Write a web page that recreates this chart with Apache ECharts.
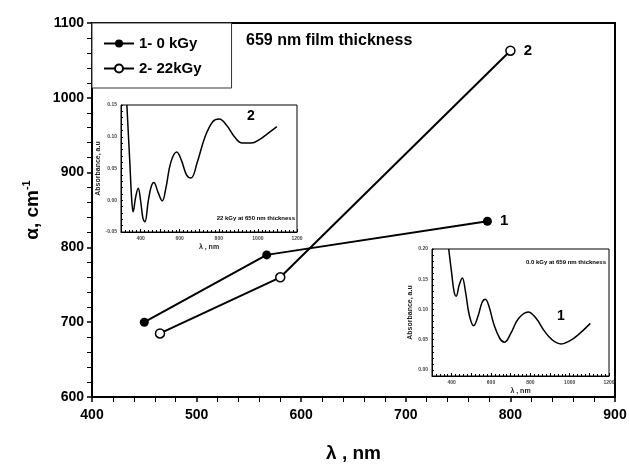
<!DOCTYPE html>
<html lang="en">
<head>
    <meta charset="UTF-8">
    <title>alpha vs lambda</title>
    <script src="https://cdn.jsdelivr.net/npm/echarts@6/dist/echarts.min.js"></script>
</head>
<body style="margin:0;background:#fff">
<div id="chart" style="width:629px;height:464px"></div>
<script>
    // main plot: absorption coefficient vs wavelength
    let lambda1 = [450, 567, 778];
    let alpha1 = [700, 790, 835];
    let lambda2 = [465, 580, 800];
    let alpha2 = [685, 760, 1063];

    // inset 1: absorbance, 22 kGy
    let absX22 = [330, 345, 355, 362, 375, 388, 400, 412, 422, 440, 455, 468, 490, 511, 530, 555, 585, 610, 635, 658, 690, 730, 770, 802, 840, 880, 920, 966, 1010, 1050, 1097];
    let absY22 = [0.15, 0.06, 0.0, -0.018, 0.005, 0.019, 0.0, -0.028, -0.034, 0.0, 0.022, 0.028, 0.012, -0.001, 0.02, 0.06, 0.076, 0.062, 0.04, 0.035, 0.06, 0.1, 0.124, 0.128, 0.118, 0.1, 0.09, 0.09, 0.096, 0.105, 0.116];

    // inset 2: absorbance, 0 kGy
    let absX0 = [385, 400, 412, 423, 438, 454, 470, 490, 512, 535, 555, 571, 590, 615, 645, 669, 700, 740, 789, 830, 870, 910, 956, 1000, 1050, 1105];
    let absY0 = [0.2, 0.16, 0.13, 0.122, 0.14, 0.152, 0.13, 0.09, 0.073, 0.09, 0.112, 0.117, 0.105, 0.075, 0.052, 0.046, 0.06, 0.085, 0.096, 0.085, 0.065, 0.05, 0.043, 0.048, 0.06, 0.077];

    let font = 'Arial, "Liberation Sans", sans-serif';

    function pairs(xs, ys) {
        return xs.map(function (x, i) { return [x, ys[i]]; });
    }

    // put an end label on the last point of a main series
    function withEndLabel(data, text) {
        let last = data[data.length - 1];
        data[data.length - 1] = {
            value: last,
            label: {show: true, formatter: text, position: 'right', distance: 8,
                fontSize: 15, fontWeight: 'bold', color: '#000', fontFamily: font}
        };
        return data;
    }

    function insetX(idx) {
        return {
            type: 'value', gridIndex: idx, min: 300, max: 1200, interval: 100,
            name: 'λ , nm', nameLocation: 'middle', nameGap: 12,
            nameTextStyle: {fontSize: 7, fontWeight: 'bold', color: '#222', fontFamily: font},
            axisLine: {onZero: false, lineStyle: {color: '#000', width: 1}},
            axisTick: {inside: true, length: 3, lineStyle: {color: '#000'}},
            minorTick: {show: true, splitNumber: 5, length: 2, lineStyle: {color: '#000'}},
            splitLine: {show: false},
            axisLabel: {fontSize: 5, fontWeight: 'bold', color: '#444', margin: 4, fontFamily: font,
                formatter: function (v) { return v % 200 === 0 ? v : ''; }}
        };
    }

    function insetY(idx, lo, hi) {
        return {
            type: 'value', gridIndex: idx, min: lo, max: hi, interval: 0.01,
            name: 'Absorbance, a.u', nameLocation: 'middle', nameGap: 18,
            nameTextStyle: {fontSize: 7, fontWeight: 'bold', color: '#222', fontFamily: font},
            axisLine: {onZero: false, lineStyle: {color: '#000', width: 1}},
            axisTick: {inside: true, length: 2, lineStyle: {color: '#000'}},
            splitLine: {show: false},
            axisLabel: {fontSize: 5, fontWeight: 'bold', color: '#444', margin: 4, fontFamily: font,
                showMinLabel: true, showMaxLabel: true,
                formatter: function (v) {
                    let k = v / 0.05;
                    return Math.abs(k - Math.round(k)) < 1e-6 ? v.toFixed(2) : '';
                }}
        };
    }

    let myChart = echarts.init(document.getElementById('chart'), null, {renderer: 'canvas'});

    let option = {
        animation: false,
        backgroundColor: '#fff',
        grid: [
            {left: 92, right: 14, top: 23, bottom: 67, outerBoundsMode: 'none',
                show: true, borderColor: '#000', borderWidth: 2},
            {left: 121, top: 105, width: 176, height: 127, outerBoundsMode: 'none',
                show: true, backgroundColor: '#fff', borderColor: '#000', borderWidth: 1},
            {left: 432, top: 249, width: 177, height: 127, outerBoundsMode: 'none',
                show: true, backgroundColor: '#fff', borderColor: '#000', borderWidth: 1}
        ],
        xAxis: [
            {
                type: 'value', gridIndex: 0, min: 400, max: 900, interval: 100,
                name: 'λ , nm', nameLocation: 'middle', nameGap: 47,
                nameTextStyle: {fontSize: 19, fontWeight: 'bold', color: '#000', fontFamily: font},
                axisLine: {lineStyle: {color: '#000', width: 2}},
                axisTick: {length: 5, lineStyle: {color: '#000', width: 1.5}},
                minorTick: {show: true, splitNumber: 5, length: 5, lineStyle: {color: '#000', width: 1}},
                splitLine: {show: false},
                axisLabel: {fontSize: 14, fontWeight: 'bold', color: '#000', margin: 11, fontFamily: font}
            },
            insetX(1),
            insetX(2)
        ],
        yAxis: [
            {
                type: 'value', gridIndex: 0, min: 600, max: 1100, interval: 100,
                name: '{a|α, cm}{s|-1}', nameLocation: 'middle', nameGap: 38,
                nameTextStyle: {
                    color: '#000', fontFamily: font,
                    rich: {
                        a: {fontSize: 19, fontWeight: 'bold', fontFamily: font, color: '#000'},
                        s: {fontSize: 11, fontWeight: 'bold', fontFamily: font, color: '#000', verticalAlign: 'top', padding: [0, 0, 10, 0]}
                    }
                },
                axisLine: {lineStyle: {color: '#000', width: 2}},
                axisTick: {length: 5, lineStyle: {color: '#000', width: 1.5}},
                minorTick: {show: true, splitNumber: 5, length: 5, lineStyle: {color: '#000', width: 1}},
                splitLine: {show: false},
                axisLabel: {fontSize: 14, fontWeight: 'bold', color: '#000', margin: 8, fontFamily: font,
                    formatter: function (v) { return String(v); }}
            },
            insetY(1, -0.05, 0.15),
            insetY(2, -0.01, 0.2)
        ],
        legend: {
            left: 92, top: 23, orient: 'vertical',
            padding: [13, 30, 12, 11],
            itemGap: 10,
            itemWidth: 30, itemHeight: 10,
            borderColor: '#333', borderWidth: 1, backgroundColor: '#fff',
            textStyle: {fontSize: 15, fontWeight: 'bold', color: '#000', fontFamily: font},
            data: ['1- 0 kGy', '2- 22kGy']
        },
        graphic: [
            {type: 'text', left: 246, top: 33,
                style: {text: '659 nm film thickness', fontSize: 16, fontWeight: 'bold', fill: '#000', fontFamily: font}},
            {type: 'text', left: 247, top: 109,
                style: {text: '2', fontSize: 14, fontWeight: 'bold', fill: '#000', fontFamily: font}},
            {type: 'text', right: 334, top: 215,
                style: {text: '22 kGy at 650 nm thickness', fontSize: 6, fontWeight: 'bold', fill: '#000', fontFamily: font}},
            {type: 'text', right: 23, top: 259,
                style: {text: '0.0 kGy at 659 nm thickness', fontSize: 6, fontWeight: 'bold', fill: '#000', fontFamily: font}},
            {type: 'text', left: 557, top: 309,
                style: {text: '1', fontSize: 14, fontWeight: 'bold', fill: '#000', fontFamily: font}}
        ],
        series: [
            {
                name: '1- 0 kGy', type: 'line', xAxisIndex: 0, yAxisIndex: 0,
                data: withEndLabel(pairs(lambda1, alpha1), '1'),
                symbol: 'circle', symbolSize: 9,
                itemStyle: {color: '#000'},
                lineStyle: {color: '#000', width: 2}
            },
            {
                name: '2- 22kGy', type: 'line', xAxisIndex: 0, yAxisIndex: 0,
                data: withEndLabel(pairs(lambda2, alpha2), '2'),
                symbol: 'circle', symbolSize: 9,
                itemStyle: {color: '#fff', borderColor: '#000', borderWidth: 1.5},
                lineStyle: {color: '#000', width: 2}
            },
            {
                type: 'line', xAxisIndex: 1, yAxisIndex: 1,
                data: pairs(absX22, absY22),
                showSymbol: false, smooth: 0.4,
                lineStyle: {color: '#000', width: 1.5}
            },
            {
                type: 'line', xAxisIndex: 2, yAxisIndex: 2,
                data: pairs(absX0, absY0),
                showSymbol: false, smooth: 0.4,
                lineStyle: {color: '#000', width: 1.5}
            }
        ]
    };

    myChart.setOption(option);
</script>
</body>
</html>
